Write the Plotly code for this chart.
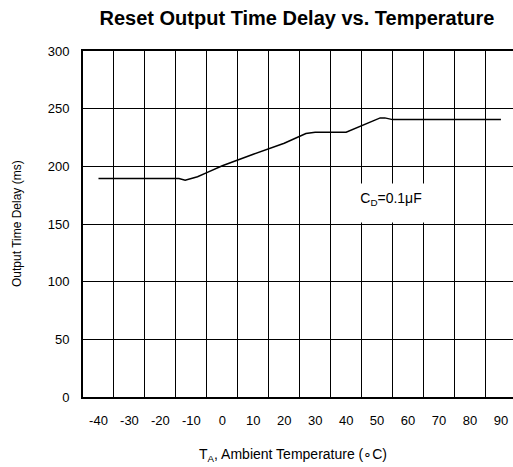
import plotly.graph_objects as go

# Data
temperature_c = [-40, -14, -12, -8, -5, 0, 10, 20, 27, 30, 40, 51, 52.5, 55, 90]
delay_ms = [189.5, 189.5, 188, 191, 194.5, 200.5, 210.5, 220, 228.5, 229.5, 229.5, 242, 242, 240.5, 240.5]

x_tick_vals = [-40, -30, -20, -10, 0, 10, 20, 30, 40, 50, 60, 70, 80, 90]
x_tick_text = ["-40", "-30", "-20", "-10", "0", "10", "20", "30", "40", "50", "60", "70", "80", "90"]
x_grid_vals = [-35, -25, -15, -5, 5, 15, 25, 35, 45, 55, 65, 75, 85]
y_tick_vals = [0, 50, 100, 150, 200, 250, 300]

FONT = "Liberation Sans, Arial, sans-serif"

fig = go.Figure()
fig.add_trace(go.Scatter(
    x=temperature_c, y=delay_ms, mode="lines",
    line=dict(color="black", width=1.5), hoverinfo="skip",
))

fig.update_layout(
    width=513, height=467,
    margin=dict(l=83, r=0, t=51, b=70),
    paper_bgcolor="white", plot_bgcolor="white",
    showlegend=False,
    font=dict(family=FONT, color="black", size=13),
    title=dict(
        text="<b>Reset Output Time Delay vs. Temperature</b>",
        font=dict(family=FONT, size=20, color="black"),
        x=297 / 513, xanchor="center", xref="container",
        y=1 - 18 / 467, yref="container", yanchor="middle",
    ),
)

fig.update_xaxes(
    range=[-45, 93.9],
    tickmode="array", tickvals=x_tick_vals, ticktext=x_tick_text,
    showgrid=False, zeroline=False,
    ticks="", ticklabelstandoff=10,
    tickfont=dict(size=13),
    showline=True, linecolor="black", linewidth=2, mirror=True,
    minor=dict(tickmode="array", tickvals=x_grid_vals, showgrid=True,
               gridcolor="black", gridwidth=1, ticks=""),
    fixedrange=True,
)
fig.update_yaxes(
    range=[0, 300],
    tickmode="array", tickvals=y_tick_vals,
    showgrid=True, gridcolor="black", gridwidth=1,
    zeroline=False, ticks="", ticklabelstandoff=9,
    tickfont=dict(size=13),
    showline=True, linecolor="black", linewidth=2, mirror=False,
    fixedrange=True,
)

# Axis titles
fig.add_annotation(
    text="Output Time Delay (ms)", textangle=-90,
    xref="paper", yref="paper", x=(17 - 83) / 430, y=0.5,
    xanchor="center", yanchor="middle", showarrow=False,
    font=dict(family=FONT, size=12, color="black"),
)
fig.add_annotation(
    text="T<sub>A</sub>, Ambient Temperature (∘C)",
    xref="paper", yref="paper", x=(293 - 83) / 430, y=(396.7 - 455) / 346,
    xanchor="center", yanchor="middle", showarrow=False,
    font=dict(family=FONT, size=14, color="black"),
)

# Capacitor label with white background hiding gridlines
fig.add_annotation(
    text="C<sub>D</sub>=0.1μF",
    xref="x", yref="y", x=54.4, y=168.5,
    xanchor="center", yanchor="middle", showarrow=False,
    font=dict(family=FONT, size=14, color="black"),
    bgcolor="white", borderpad=6, height=26, width=72, valign="top",
)

fig.write_html(
    "out.html",
    config={"displayModeBar": False, "staticPlot": True},
    post_script="document.body.style.margin='0';",
)
